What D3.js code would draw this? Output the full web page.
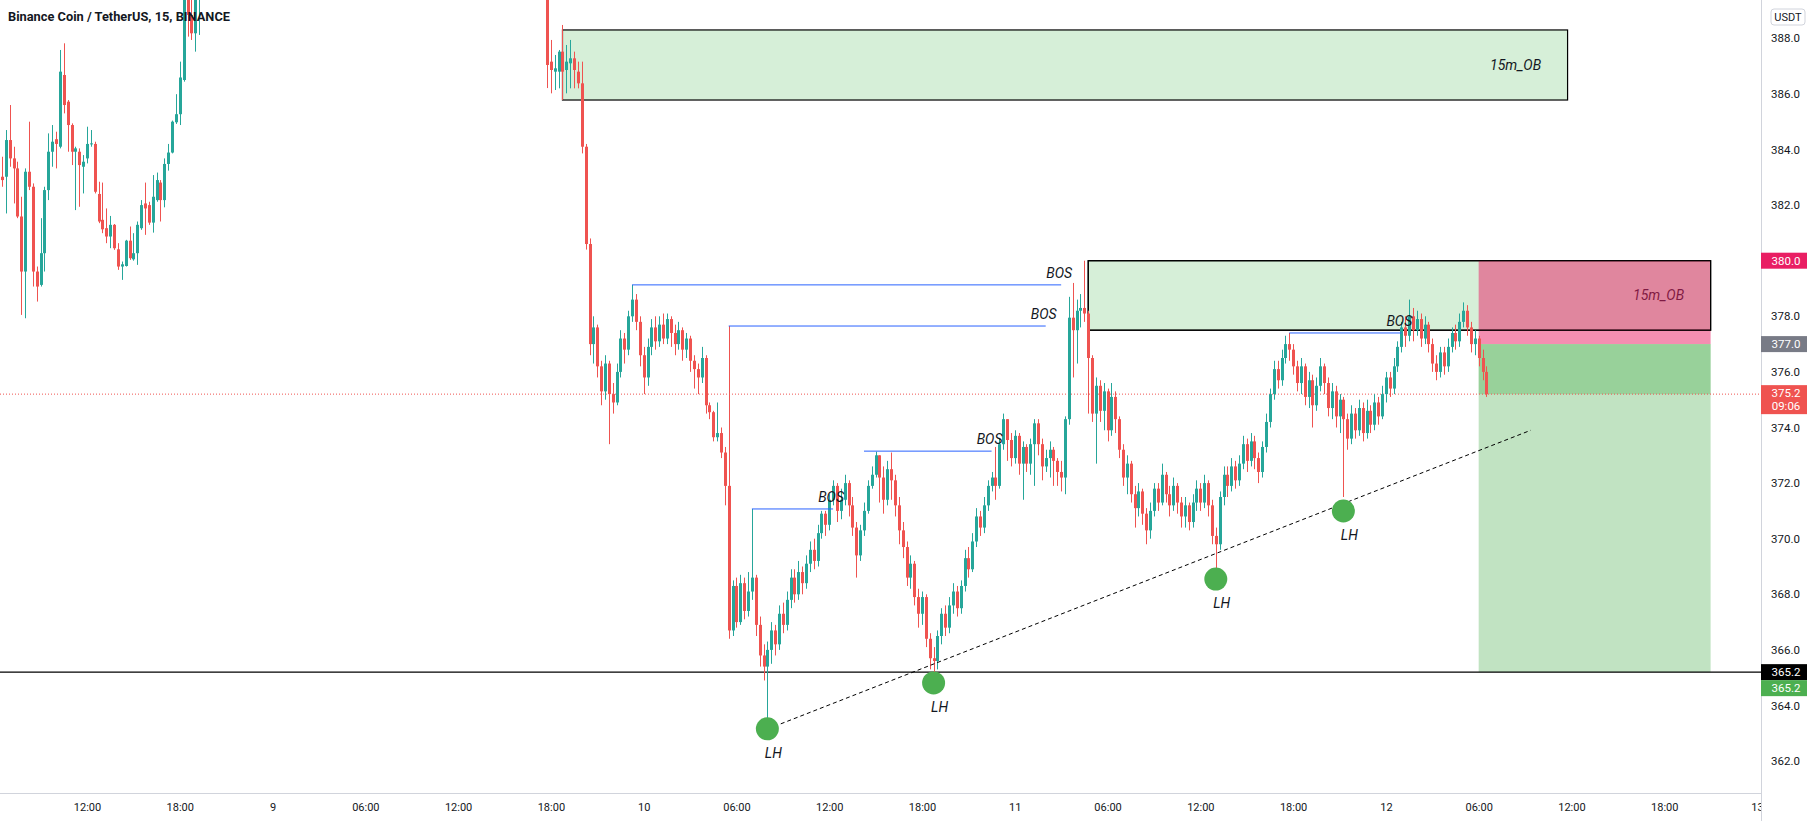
<!DOCTYPE html>
<html><head><meta charset="utf-8">
<script src="https://cdn.jsdelivr.net/npm/d3@7"></script>
<style>
body{margin:0;background:#fff;}
svg{display:block;}
text{font-family:Roboto,"Noto Sans",sans-serif;}
</style>
</head><body>
<svg id="c" width="1814" height="821"></svg>
<script>
// ---------------- DATA ----------------
const title = "Binance Coin / TetherUS, 15, BINANCE";
const barMinutes = 15;
// [open, high, low, close]
const leftStart = "2021-06-08T06:30:00Z";
const leftCandles = [
[383.02,383.74,382.66,382.90],[383.02,384.70,381.70,384.34],[384.34,385.60,383.38,383.68],[383.68,384.10,382.06,383.32],
[383.32,383.56,381.53,381.59],[381.59,382.30,378.05,379.61],[379.61,383.32,377.93,383.20],[383.20,385.00,382.54,382.66],
[382.66,382.78,379.07,379.61],[379.61,379.79,378.53,379.07],[379.13,381.53,379.07,380.27],[380.27,382.66,379.61,382.54],
[382.54,384.58,382.18,383.92],[383.92,384.88,383.38,384.28],[384.37,384.64,383.32,384.20],[384.10,387.58,384.04,386.80],
[386.68,387.82,385.30,385.60],[385.72,385.78,383.92,384.88],[384.88,384.94,383.44,383.92],[383.92,384.10,381.82,384.04],
[383.92,384.04,381.94,383.44],[383.38,383.80,382.42,383.56],[383.68,384.82,383.50,384.20],[384.20,384.70,384.10,384.22],
[384.20,384.28,382.42,382.48],[382.40,382.84,381.35,381.41],[381.47,382.81,380.99,381.13],[381.17,381.88,380.63,380.87],
[380.87,381.61,380.45,381.29],[381.29,381.32,380.39,380.45],[380.41,380.63,379.67,379.79],[379.79,379.97,379.31,379.87],
[379.81,380.75,379.79,380.72],[380.72,381.23,380.03,380.09],[380.05,380.99,380.00,380.27],[380.27,381.41,379.85,381.29],
[381.17,382.18,381.11,382.00],[382.06,382.81,380.93,381.88],[382.00,382.12,381.29,381.37],[381.37,383.08,381.01,382.30],
[382.18,383.17,382.12,382.90],[382.81,382.90,381.41,382.18],[382.18,383.68,381.92,383.48],[383.48,384.20,383.24,383.89],
[383.89,385.04,383.86,385.00],[384.98,385.99,384.92,385.27],[385.27,387.16,384.88,386.59],[386.50,389.98,386.44,389.50],
[389.50,390.10,388.06,388.84],[388.84,389.62,387.94,388.18],[388.18,389.86,387.52,389.38],[389.38,390.46,388.12,390.10]
];
const rightStart = "2021-06-09T17:45:00Z";
const rightCandles = [
[389.60,389.90,386.21,387.04],[387.16,387.94,386.02,386.86],[386.80,387.40,386.14,386.92],[386.80,387.58,386.20,387.52],
[387.52,388.48,385.78,386.80],[386.86,387.76,386.02,387.16],[387.10,387.94,386.20,387.28],[387.28,387.52,386.20,386.86],
[386.80,387.16,386.20,386.38],[386.38,387.16,383.86,384.10],
[384.10,384.20,380.40,380.60],[380.60,380.80,376.60,377.00],[377.00,378.00,376.30,377.60],[377.60,377.70,375.80,376.20],
[376.20,376.40,374.80,375.30],[375.30,376.60,375.00,376.30],[376.30,376.40,373.40,375.20],[375.20,375.60,374.50,374.90],
[374.90,376.30,374.80,376.00],[376.00,377.50,375.80,377.20],[377.20,377.40,376.30,376.80],[376.80,378.20,376.60,378.00],
[378.00,379.13,377.80,378.60],[378.60,378.80,377.50,377.80],[377.80,378.00,376.20,376.60],[376.60,376.90,375.20,375.80],
[375.80,377.20,375.50,376.90],[376.90,377.90,376.60,377.60],[377.60,378.00,376.80,377.10],[377.10,378.00,376.90,377.70],
[377.70,378.10,377.00,377.20],[377.20,378.10,377.00,377.90],[377.90,378.00,376.90,377.40],[377.40,377.70,376.60,377.00],
[377.00,377.80,376.80,377.50],[377.50,377.60,376.40,376.80],[376.80,377.40,376.50,377.20],[377.20,377.30,376.00,376.40],
[376.40,376.60,375.40,376.10],[376.10,376.30,375.20,375.80],[375.80,376.90,375.60,376.50],[376.50,376.60,374.50,374.80],
[374.80,374.90,374.30,374.55],[374.55,374.60,373.50,373.65],[373.65,374.90,373.50,373.80],[373.80,374.00,372.90,373.10],
[373.10,373.30,371.20,371.90],[371.90,377.65,366.40,366.70],[366.70,368.50,366.50,368.30],[368.30,368.60,366.80,367.00],
[367.00,368.70,366.90,368.40],[368.40,368.60,367.10,367.40],[367.40,368.80,367.20,368.10],[368.10,371.07,367.80,368.60],
[368.60,368.70,366.50,366.90],[366.90,367.20,365.40,365.80],[365.80,366.20,364.90,365.40],[365.40,366.30,363.40,366.00],
[366.00,367.00,365.50,366.70],[366.70,366.90,365.80,366.20],[366.20,367.60,366.00,367.30],[367.30,367.70,366.60,366.90],
[366.90,368.10,366.70,367.80],[367.80,368.90,367.50,368.60],[368.60,368.90,367.70,368.00],[368.00,369.20,367.80,368.80],
[368.80,369.00,368.00,368.40],[368.40,369.40,368.20,369.10],[369.10,369.90,368.80,369.60],[369.60,370.00,368.90,369.20],
[369.20,370.50,369.00,370.20],[370.20,371.00,370.00,370.90],[370.90,371.00,370.10,370.50],[370.50,371.60,370.30,371.40],
[371.40,372.10,371.20,371.90],[371.90,372.00,370.60,371.00],[371.00,371.80,370.70,371.40],[371.40,372.30,371.20,372.00],
[372.00,372.10,370.80,371.20],[371.20,371.50,370.10,370.40],[370.40,370.60,368.60,369.40],[369.40,370.50,369.20,370.30],
[370.30,371.30,370.10,371.00],[371.00,372.10,370.90,371.90],[371.90,372.60,371.80,372.30],[372.30,373.13,372.20,373.00],
[373.00,373.00,371.30,372.20],[372.20,372.60,370.90,371.40],[371.40,372.80,371.20,372.50],[372.50,373.10,371.40,372.10],
[372.10,372.30,370.80,371.20],[371.20,371.50,369.80,370.30],[370.30,370.60,369.30,369.70],[369.70,369.90,368.30,368.60],
[368.60,369.40,368.20,369.10],[369.10,369.20,367.60,367.90],[367.90,368.20,366.80,367.30],[367.30,368.10,366.90,367.90],
[367.90,368.00,366.10,366.40],[366.40,366.60,365.30,365.70],[365.70,366.10,364.80,365.60],[365.60,366.70,365.30,366.50],
[366.50,367.50,366.20,367.30],[367.30,367.60,366.50,366.80],[366.80,367.90,366.60,367.60],[367.60,368.40,367.30,368.10],
[368.10,368.30,367.20,367.50],[367.50,368.50,367.30,368.30],[368.30,369.60,368.10,369.30],[369.30,369.70,368.60,368.90],
[368.90,370.20,368.80,369.90],[369.90,371.10,369.70,370.80],[370.80,371.00,370.10,370.40],[370.40,371.50,370.20,371.20],
[371.20,372.10,371.00,371.90],[371.90,372.40,371.70,372.20],[372.20,373.30,371.40,371.90],[371.90,373.60,371.80,373.40],
[373.40,374.50,373.20,374.30],[374.30,374.30,372.80,373.55],[373.55,373.80,372.60,372.90],[372.90,373.90,372.70,373.70],
[373.70,373.80,372.30,372.70],[372.70,373.50,371.40,373.30],[373.30,373.40,372.40,372.70],[372.70,373.60,372.30,373.40],
[373.40,374.30,371.90,374.15],[374.15,374.30,373.00,373.40],[373.40,373.60,372.10,372.60],[372.60,373.20,372.40,372.90],
[372.90,373.50,372.20,373.20],[373.20,373.30,371.90,372.80],[372.80,372.90,371.90,372.40],[372.40,372.80,371.70,372.20],
[372.20,374.40,371.60,374.30],[374.30,378.70,374.10,377.95],[377.95,379.20,375.80,377.50],[377.50,378.60,376.30,378.20],
[378.20,378.80,377.60,378.30],[378.30,380.00,377.80,378.10],[378.10,378.20,374.50,376.50],[376.50,376.60,374.20,374.50],
[374.50,375.80,372.70,375.50],[375.50,375.70,374.20,374.60],[374.60,375.60,373.90,375.30],[375.30,375.40,373.50,373.90],
[373.90,375.60,373.70,375.10],[375.10,375.30,373.80,374.30],[374.30,374.40,372.90,373.20],[373.20,373.40,371.90,372.20],
[372.20,373.00,371.60,372.70],[372.70,372.80,371.30,371.60],[371.60,371.90,370.40,371.10],[371.10,372.00,370.80,371.70],
[371.70,371.80,370.50,370.90],[370.90,371.10,369.80,370.30],[370.30,371.30,370.00,371.00],[371.00,372.00,370.80,371.80],
[371.80,372.00,371.00,371.30],[371.30,372.70,371.20,372.30],[372.30,372.40,371.30,371.60],[371.60,371.90,370.80,371.20],
[371.20,372.20,371.00,371.90],[371.90,372.00,370.90,371.30],[371.30,371.50,370.40,370.80],[370.80,371.50,370.40,371.20],
[371.20,371.30,370.30,370.60],[370.60,371.60,370.40,371.30],[371.30,372.10,371.00,371.80],[371.80,372.00,371.00,371.30],
[371.30,372.30,371.10,372.00],[372.00,372.10,370.80,371.20],[371.20,371.40,369.80,370.10],[370.10,370.40,368.90,369.80],
[369.80,371.70,369.60,371.50],[371.50,372.60,371.20,372.30],[372.30,372.60,371.50,371.90],[371.90,372.90,371.70,372.60],
[372.60,372.80,371.80,372.10],[372.10,373.00,371.90,372.70],[372.70,373.70,372.50,373.40],[373.40,373.60,372.40,372.80],
[372.80,373.80,372.60,373.50],[373.50,373.70,372.50,372.90],[372.90,373.10,372.00,372.40],[372.40,373.50,372.20,373.30],
[373.30,374.50,373.10,374.20],[374.20,375.40,374.00,375.20],[375.20,376.40,375.00,376.10],[376.10,376.40,375.40,375.70],
[375.70,376.80,375.50,376.50],[376.50,377.30,376.30,377.00],[377.00,377.40,376.40,376.80],[376.80,377.00,375.90,376.20],
[376.20,376.40,375.30,375.60],[375.60,376.50,375.20,376.20],[376.20,376.30,374.80,375.10],[375.10,376.00,374.70,375.70],
[375.70,375.90,374.00,374.80],[374.80,375.80,374.60,375.50],[375.50,376.50,375.30,376.20],[376.20,376.30,375.20,375.60],
[375.60,375.80,374.40,374.70],[374.70,375.60,374.30,375.30],[375.30,375.50,374.00,374.40],[374.40,375.20,373.80,375.00],
[375.00,375.10,371.50,374.30],[374.30,374.50,373.20,373.60],[373.60,374.80,373.40,374.50],[374.50,374.70,373.60,373.90],
[373.90,375.00,373.70,374.70],[374.70,374.90,373.50,373.80],[373.80,375.00,373.60,374.60],[374.60,374.80,373.80,374.10],
[374.10,375.20,373.90,374.90],[374.90,375.10,374.10,374.40],[374.40,375.50,374.30,375.20],[375.20,376.00,374.90,375.80],
[375.80,376.00,375.10,375.40],[375.40,376.50,375.20,376.20],[376.20,377.10,376.00,376.90],[376.90,377.80,376.70,377.60],
[377.60,378.00,376.90,377.30],[377.30,378.60,377.10,378.00],[378.00,378.30,377.10,377.50],[377.50,378.20,377.30,377.90],
[377.90,378.10,376.90,377.20],[377.20,378.00,377.00,377.70],[377.70,377.80,376.70,377.00],[377.00,377.20,376.00,376.30],
[376.30,376.60,375.70,376.00],[376.00,376.90,375.80,376.70],[376.70,376.90,375.90,376.20],[376.20,377.20,376.00,376.90],
[376.90,377.60,376.70,377.40],[377.40,377.70,376.80,377.10],[377.10,378.10,376.90,377.80],[377.80,378.50,377.60,378.20],
[378.20,378.40,377.30,377.60],[377.60,377.80,376.70,377.00],[377.00,377.50,376.60,377.20],[377.20,377.30,376.20,376.50],
[376.50,376.80,375.70,376.00],[376.00,376.20,375.10,375.20]
];
const yTicks = [362,364,366,368,370,372,374,376,378,380,382,384,386,388];
const xTickTimes = ["2021-06-08T12:00Z","2021-06-08T18:00Z","2021-06-09T00:00Z","2021-06-09T06:00Z","2021-06-09T12:00Z",
"2021-06-09T18:00Z","2021-06-10T00:00Z","2021-06-10T06:00Z","2021-06-10T12:00Z","2021-06-10T18:00Z","2021-06-11T00:00Z",
"2021-06-11T06:00Z","2021-06-11T12:00Z","2021-06-11T18:00Z","2021-06-12T00:00Z","2021-06-12T06:00Z","2021-06-12T12:00Z",
"2021-06-12T18:00Z","2021-06-13T00:00Z"];
const xTickLabels = ["12:00","18:00","9","06:00","12:00","18:00","10","06:00","12:00","18:00","11","06:00","12:00","18:00","12","06:00","12:00","18:00","13"];
const obZones = [
 {label:"15m_OB", t0:"2021-06-09T18:45Z", t1:"2021-06-12T11:45Z", top:388.30, bottom:385.78},
 {label:"15m_OB", t0:"2021-06-11T04:45Z", t1:"2021-06-12T21:00Z", top:380.0, bottom:377.5}
];
const bosLines = [
 {t0:"2021-06-09T23:15Z", t1:"2021-06-11T03:00Z", price:379.13},
 {t0:"2021-06-10T05:30Z", t1:"2021-06-11T02:00Z", price:377.65},
 {t0:"2021-06-10T07:00Z", t1:"2021-06-10T12:15Z", price:371.07},
 {t0:"2021-06-10T14:15Z", t1:"2021-06-10T22:30Z", price:373.15},
 {t0:"2021-06-11T17:45Z", t1:"2021-06-12T01:00Z", price:377.40}
];
const lhPoints = [
 {t:"2021-06-10T08:00Z", price:363.16},
 {t:"2021-06-10T18:45Z", price:364.81},
 {t:"2021-06-11T13:00Z", price:368.55},
 {t:"2021-06-11T21:15Z", price:371.00}
];
const trendLine = [{t:"2021-06-10T08:52Z", price:363.34},{t:"2021-06-12T09:22Z", price:373.90}];
const position = {t0:"2021-06-12T06:00Z", t1:"2021-06-12T21:00Z", stop:380.0, entry:377.0, current:375.2, target:365.2};
const supportLevel = 365.2;
const lastPrice = 375.2;
const priceTags = [
 {value:380.0, lines:["380.0"], bg:"#e91e63"},
 {value:377.0, lines:["377.0"], bg:"#787b86"},
 {value:375.2, lines:["375.2","09:06"], bg:"#ef5350"},
 {value:365.2, lines:["365.2"], bg:"#000000", dy:0},
 {value:365.2, lines:["365.2"], bg:"#4caf50", dy:16}
];

// ---------------- LAYOUT ----------------
const W = 1814, H = 821;
const plotRight = 1761, plotBottom = 793;
const svg = d3.select("#c");
const parseT = s => new Date(s);
const x = d3.scaleUtc().domain([parseT("2021-06-08T12:00Z"), parseT("2021-06-13T00:00Z")]).range([87, 1757]);
const y = d3.scaleLinear().domain([362, 388]).range([761.1, 38.3]);

svg.append("defs").append("clipPath").attr("id","plot").append("rect")
  .attr("x",0).attr("y",0).attr("width",plotRight).attr("height",plotBottom);
svg.select("defs").append("clipPath").attr("id","xax").append("rect")
  .attr("x",0).attr("y",plotBottom).attr("width",plotRight).attr("height",H-plotBottom);

const plot = svg.append("g").attr("clip-path","url(#plot)");

function drawZone(z, g){
  const x0 = x(parseT(z.t0)), x1 = x(parseT(z.t1));
  g.append("rect").attr("x",x0).attr("y",y(z.top)).attr("width",x1-x0).attr("height",y(z.bottom)-y(z.top))
    .attr("fill","#d6efd8").attr("stroke","#000").attr("stroke-width",1.2);
  g.append("text").attr("x",x1-52).attr("y",(y(z.top)+y(z.bottom))/2+5)
    .attr("text-anchor","middle").attr("font-style","italic").attr("font-size",14).attr("fill","#131722").text(z.label);
}
obZones.forEach(z=>drawZone(z, plot));

{
  const x0 = x(parseT(position.t0)), x1 = x(parseT(position.t1));
  plot.append("rect").attr("x",x0).attr("width",x1-x0).attr("y",y(position.stop)).attr("height",y(position.entry)-y(position.stop))
    .attr("fill","rgba(233,30,99,0.5)");
  plot.append("rect").attr("x",x0).attr("width",x1-x0).attr("y",y(position.entry)).attr("height",y(position.target)-y(position.entry))
    .attr("fill","rgba(76,175,80,0.35)");
  plot.append("rect").attr("x",x0).attr("width",x1-x0).attr("y",y(position.entry)).attr("height",y(position.current)-y(position.entry))
    .attr("fill","rgba(76,175,80,0.35)");
  const z = obZones[1];
  const zx0 = x(parseT(z.t0)), zx1 = x(parseT(z.t1));
  plot.append("rect").attr("x",zx0).attr("y",y(z.top)).attr("width",zx1-zx0).attr("height",y(z.bottom)-y(z.top))
    .attr("fill","none").attr("stroke","#000").attr("stroke-width",1.2);
}

plot.append("line").attr("x1",0).attr("x2",plotRight).attr("y1",y(supportLevel)).attr("y2",y(supportLevel))
  .attr("stroke","#000").attr("stroke-width",1.2);
plot.append("line").attr("x1",0).attr("x2",plotRight).attr("y1",y(lastPrice)).attr("y2",y(lastPrice))
  .attr("stroke","#ef5350").attr("stroke-width",1).attr("stroke-dasharray","1,2");

function candles(start, arr){
  const t0 = parseT(start).getTime();
  return arr.map((d,i)=>({t:new Date(t0 + i*barMinutes*60000), o:d[0], h:d[1], l:d[2], c:d[3]}));
}
const allBars = candles(leftStart, leftCandles).concat(candles(rightStart, rightCandles));
const up = "#26a69a", dn = "#ef5350";
const cg = plot.append("g");
cg.selectAll("line.wick").data(allBars).join("line").attr("class","wick")
  .attr("x1",d=>Math.round(x(d.t))+0.5).attr("x2",d=>Math.round(x(d.t))+0.5)
  .attr("y1",d=>y(d.h)).attr("y2",d=>y(d.l))
  .attr("stroke",d=>d.c>=d.o?up:dn).attr("stroke-width",1);
cg.selectAll("rect.body").data(allBars).join("rect").attr("class","body")
  .attr("x",d=>Math.round(x(d.t))-1).attr("width",3)
  .attr("y",d=>y(Math.max(d.o,d.c))).attr("height",d=>Math.max(1,Math.abs(y(d.o)-y(d.c))))
  .attr("fill",d=>d.c>=d.o?up:dn);

bosLines.forEach(b=>{
  const x0 = x(parseT(b.t0)), x1 = x(parseT(b.t1));
  plot.append("line").attr("x1",x0).attr("x2",x1).attr("y1",y(b.price)).attr("y2",y(b.price))
    .attr("stroke","#2962ff").attr("stroke-width",1);
  plot.append("text").attr("x",x1-2).attr("y",y(b.price)-7).attr("text-anchor","middle")
    .attr("font-style","italic").attr("font-size",14).attr("fill","#131722").text("BOS");
});

plot.append("line")
  .attr("x1",x(parseT(trendLine[0].t))).attr("y1",y(trendLine[0].price))
  .attr("x2",x(parseT(trendLine[1].t))).attr("y2",y(trendLine[1].price))
  .attr("stroke","#000").attr("stroke-width",1).attr("stroke-dasharray","4,3");

lhPoints.forEach(p=>{
  const cx = x(parseT(p.t)), cy = y(p.price);
  plot.append("circle").attr("cx",cx).attr("cy",cy).attr("r",11.5).attr("fill","#4caf50");
  plot.append("text").attr("x",cx+6).attr("y",cy+29).attr("text-anchor","middle")
    .attr("font-style","italic").attr("font-size",14).attr("fill","#131722").text("LH");
});

svg.append("text").attr("x",8).attr("y",21).attr("font-weight","bold").attr("font-size",13)
  .attr("fill","#131722").attr("textLength",222).attr("lengthAdjust","spacingAndGlyphs").text(title);

svg.append("rect").attr("x",plotRight).attr("y",0).attr("width",W-plotRight).attr("height",H).attr("fill","#fff");
svg.append("line").attr("x1",plotRight+0.5).attr("x2",plotRight+0.5).attr("y1",0).attr("y2",H).attr("stroke","#d1d4dc");
svg.append("line").attr("x1",0).attr("x2",plotRight).attr("y1",plotBottom+0.5).attr("y2",plotBottom+0.5).attr("stroke","#d1d4dc");

const yAxis = d3.axisRight(y).tickValues(yTicks).tickFormat(d3.format(".1f")).tickSize(0).tickPadding(10);
const yg = svg.append("g").attr("transform",`translate(${plotRight},0)`).call(yAxis);
yg.select(".domain").remove();
yg.selectAll("text").attr("font-size",11.5).attr("fill","#131722").style("font-family","Roboto,sans-serif");

const xAxis = d3.axisBottom(x).tickValues(xTickTimes.map(parseT)).tickFormat((d,i)=>xTickLabels[i]).tickSize(0).tickPadding(10);
const xg = svg.append("g").attr("clip-path","url(#xax)").append("g").attr("transform",`translate(0,${plotBottom})`).call(xAxis);
xg.select(".domain").remove();
xg.selectAll("text").attr("font-size",11).attr("fill","#131722").style("font-family","Roboto,sans-serif");

priceTags.forEach(p=>{
  const cy = y(p.value) + (p.dy||0);
  const h = p.lines.length*13 + 3;
  const top = p.lines.length>1 ? cy-9 : cy-8;
  svg.append("rect").attr("x",plotRight).attr("y",top).attr("width",46).attr("height",h).attr("fill",p.bg);
  p.lines.forEach((t,i)=>{
    svg.append("text").attr("x",plotRight+25).attr("y",top+12+i*13).attr("text-anchor","middle")
      .attr("font-size",11.5).attr("fill","#fff").text(t);
  });
});
svg.append("rect").attr("x",1771).attr("y",9).attr("width",34).attr("height",16).attr("rx",3)
  .attr("fill","#fff").attr("stroke","#d1d4dc");
svg.append("text").attr("x",1788).attr("y",21).attr("text-anchor","middle").attr("font-size",11).attr("fill","#131722").text("USDT");
</script>
</body></html>
